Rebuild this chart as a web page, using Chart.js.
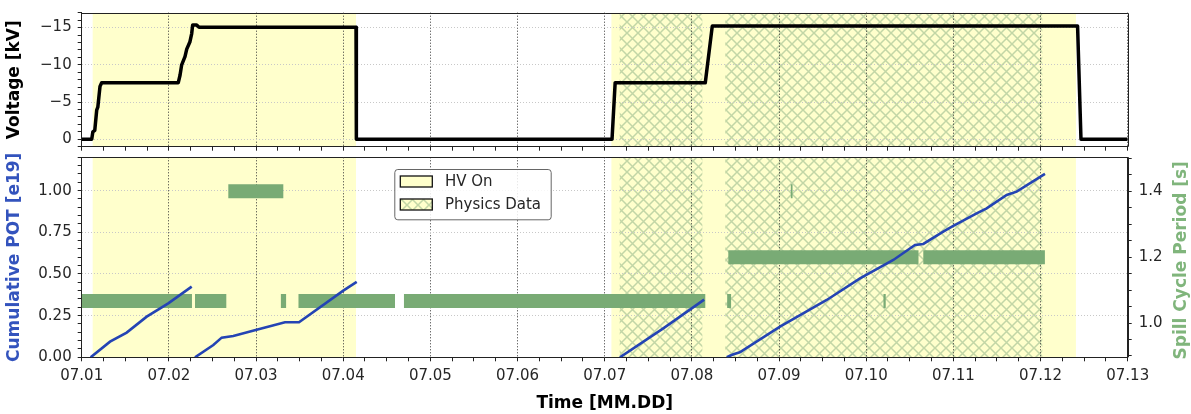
<!DOCTYPE html>
<html>
<head>
<meta charset="utf-8">
<title>HV and POT timeline</title>
<script src="https://cdn.jsdelivr.net/npm/chart.js@4.4.1/dist/chart.umd.min.js"></script>
<style>
  html, body { margin: 0; padding: 0; background: #fff; }
  #wrap { position: relative; width: 1191px; height: 414px; }
  #top-box { position: absolute; left: 0; top: 0; width: 1191px; height: 152px; }
  #bot-box { position: absolute; left: 0; top: 150px; width: 1191px; height: 264px; }
</style>
</head>
<body>
<div id="wrap">
  <div id="top-box"><canvas id="volt"></canvas></div>
  <div id="bot-box"><canvas id="pot"></canvas></div>
</div>
<script>
/* global Chart */
// x values are days of July (1 = 07.01)
const xTickLabels = ['07.01', '07.02', '07.03', '07.04', '07.05', '07.06', '07.07',
  '07.08', '07.09', '07.10', '07.11', '07.12', '07.13'];

const hvOnStart = [1.126, 7.077];
const hvOnEnd = [4.147, 12.406];
const physStart = [7.172, 8.383];
const physEnd = [8.12, 12.02];
const legendLabels = ['HV On', 'Physics Data'];

const voltDay = [1.0, 1.115, 1.128, 1.15, 1.172, 1.185, 1.21, 1.229, 2.108, 2.128, 2.147,
  2.185, 2.205, 2.242, 2.262, 2.273, 2.319, 2.346, 4.147, 4.149, 4.151, 4.153, 7.084,
  7.12, 8.154, 8.234, 12.425, 12.464, 13.0];
const voltKV = [0, 0, -1.0, -1.2, -3.9, -4.3, -7.1, -7.6, -7.6, -8.6, -10.0,
  -11.1, -12.1, -13.1, -14.2, -15.35, -15.35, -15.05, -15.05, -3.5, -0.6, 0, 0,
  -7.6, -7.6, -15.2, -15.2, 0, 0];

// null = gap between runs
const potDay = [1.103, 1.325, 1.516, 1.746, 1.993, 2.262, 2.28,
  2.30, 2.51, 2.606, 2.739, 2.996, 3.332, 3.493, 4.001, 4.155, 4.2,
  7.175, 7.672, 8.141, 8.2,
  8.40, 8.47, 8.55, 9.011, 9.547, 9.929, 10.311, 10.56, 10.655, 10.884, 10.999,
  11.267, 11.382, 11.612, 11.726, 12.051];
const potE19 = [0, 0.094, 0.148, 0.244, 0.324, 0.424, null,
  0, 0.074, 0.118, 0.128, 0.164, 0.21, 0.21, 0.40, 0.452, null,
  0, 0.174, 0.346, null,
  0, 0.017, 0.03, 0.184, 0.344, 0.474, 0.584, 0.674, 0.68, 0.754, 0.788,
  0.864, 0.894, 0.974, 0.994, 1.10];

const spillStart = [1.0, 2.30, 2.682, 3.285, 3.487, 4.697, 8.405, 8.418, 9.135, 10.198, 10.655];
const spillEnd = [2.265, 2.659, 3.313, 3.345, 4.594, 8.154, 8.45, 10.60, 9.155, 10.224, 12.05];
const spillPeriod = [1.067, 1.067, 1.40, 1.067, 1.067, 1.067, 1.067, 1.20, 1.40, 1.067, 1.20];

const spillMajor = [1.0, 1.2, 1.4];

const FONT = '"DejaVu Sans", sans-serif';
const YELLOW = '#ffffcc';
const BLUE = '#2444b4';
const GREEN = 'rgb(121,171,117)';
const TEXT = '#262626';

Chart.defaults.font.family = FONT;

function near(v, step) {
  const q = v / step;
  return Math.abs(q - Math.round(q)) < 1e-6;
}

function fmtKV(v) {
  return v < 0 ? '\u2212' + Math.abs(v) : String(v);
}

// fixed axis box sizes so both panels line up with the reference
function fixWidth(w) {
  return s => {
    s.width = w;
    s.paddingTop = 0;
    s.paddingBottom = 0;
  };
}
function fixHeight(h) {
  return s => {
    s.height = h;
    s.paddingLeft = 0;
    s.paddingRight = 0;
  };
}

const voltPoints = voltDay.map((d, i) => ({ x: d, y: voltKV[i] }));
const potPoints = potDay.map((d, i) => ({ x: d, y: potE19[i] }));
const spillPoints = [];
spillStart.forEach((s, i) => {
  spillPoints.push({ x: s, y: spillPeriod[i] });
  spillPoints.push({ x: spillEnd[i], y: spillPeriod[i] });
  spillPoints.push({ x: spillEnd[i], y: null });
});

function makeHatch() {
  const s = 11;
  const c = document.createElement('canvas');
  c.width = s;
  c.height = s;
  const g = c.getContext('2d');
  g.fillStyle = YELLOW;
  g.fillRect(0, 0, s, s);
  g.strokeStyle = 'rgba(120,165,120,0.45)';
  g.lineWidth = 1.5;
  g.beginPath();
  g.moveTo(-1, -1); g.lineTo(s + 1, s + 1);
  g.moveTo(-1, s + 1); g.lineTo(s + 1, -1);
  g.stroke();
  return c;
}
const hatchTile = makeHatch();

const spanPlugin = {
  id: 'spans',
  beforeDraw(chart) {
    const { ctx, chartArea: a, scales: { x } } = chart;
    ctx.save();
    ctx.beginPath();
    ctx.rect(a.left, a.top, a.right - a.left, a.bottom - a.top);
    ctx.clip();
    ctx.fillStyle = YELLOW;
    hvOnStart.forEach((s, i) => {
      const x0 = x.getPixelForValue(s);
      const x1 = x.getPixelForValue(hvOnEnd[i]);
      ctx.fillRect(x0, a.top, x1 - x0, a.bottom - a.top);
    });
    ctx.fillStyle = ctx.createPattern(hatchTile, 'repeat');
    physStart.forEach((s, i) => {
      const x0 = x.getPixelForValue(s);
      const x1 = x.getPixelForValue(physEnd[i]);
      ctx.fillRect(x0, a.top, x1 - x0, a.bottom - a.top);
    });
    ctx.restore();
  }
};

const framePlugin = {
  id: 'frame',
  afterDraw(chart) {
    const { ctx, chartArea: a } = chart;
    const t = Math.round(a.top) + 0.5;
    const r = Math.round(a.right) + 0.5;
    ctx.save();
    ctx.strokeStyle = '#222';
    ctx.lineWidth = 1;
    ctx.beginPath();
    ctx.moveTo(a.left, t);
    ctx.lineTo(r, t);
    ctx.lineTo(r, a.bottom);
    ctx.stroke();
    ctx.restore();
  }
};

const boxLegend = {
  id: 'boxLegend',
  afterDraw(chart) {
    const { ctx, chartArea: a } = chart;
    const left = a.left + 312.6;
    const top = a.top + 11.7;
    const w = 156.4;
    const h = 50.3;
    ctx.save();
    ctx.beginPath();
    ctx.roundRect(left + 0.5, top + 0.5, w, h, 3);
    ctx.fillStyle = 'rgba(255,255,255,0.85)';
    ctx.fill();
    ctx.strokeStyle = '#666';
    ctx.lineWidth = 1;
    ctx.stroke();
    const fills = [YELLOW, ctx.createPattern(hatchTile, 'repeat')];
    legendLabels.forEach((lab, i) => {
      const py = top + 7 + i * 23;
      ctx.fillStyle = fills[i];
      ctx.fillRect(left + 6, py, 32, 11);
      ctx.strokeStyle = '#111';
      ctx.lineWidth = 1.3;
      ctx.strokeRect(left + 6, py, 32, 11);
      ctx.fillStyle = TEXT;
      ctx.font = '15px ' + FONT;
      ctx.textBaseline = 'middle';
      ctx.textAlign = 'left';
      ctx.fillText(lab, left + 50.7, py + 6);
    });
    ctx.restore();
  }
};

const rightTitle = {
  id: 'rightTitle',
  afterDraw(chart) {
    const { ctx, chartArea: a } = chart;
    ctx.save();
    ctx.translate(a.right + 54, (a.top + a.bottom) / 2 + 3);
    ctx.rotate(-Math.PI / 2);
    ctx.font = 'bold 17px ' + FONT;
    ctx.fillStyle = '#80b57c';
    ctx.textAlign = 'center';
    ctx.textBaseline = 'middle';
    ctx.fillText('Spill Cycle Period [s]', 0, 0);
    ctx.restore();
  }
};

function timeAxis(showLabels, height) {
  return {
    type: 'linear',
    min: 1,
    max: 13,
    ticks: {
      stepSize: 0.25,
      autoSkip: false,
      maxRotation: 0,
      padding: 6,
      color: TEXT,
      font: { size: 15 },
      callback: v => (showLabels && near(v, 1) ? xTickLabels[Math.round(v) - 1] : '')
    },
    grid: {
      color: c => (c.tick && near(c.tick.value, 1) ? '#333' : 'rgba(0,0,0,0)'),
      lineWidth: 1,
      tickColor: '#222',
      tickLength: 4
    },
    border: { color: '#222', width: 1, dash: [1, 2] },
    title: {
      display: showLabels,
      text: 'Time [MM.DD]',
      color: '#000',
      font: { size: 17, weight: 'bold' },
      padding: { top: 0, bottom: 0 }
    },
    afterFit: fixHeight(height)
  };
}

function leftGrid(step) {
  return {
    color: c => (c.tick && near(c.tick.value, step) ? '#c8c8c8' : 'rgba(0,0,0,0)'),
    lineWidth: 1,
    tickColor: '#222',
    tickLength: 4
  };
}

new Chart(document.getElementById('volt'), {
  type: 'line',
  data: {
    datasets: [{
      data: voltPoints,
      borderColor: '#000',
      borderWidth: 3.5,
      borderJoinStyle: 'round',
      pointRadius: 0
    }]
  },
  options: {
    responsive: true,
    maintainAspectRatio: false,
    animation: false,
    layout: { padding: { top: 12.7, right: 63.3, left: 0, bottom: 0 } },
    plugins: { legend: { display: false }, tooltip: { enabled: false } },
    scales: {
      x: timeAxis(false, 5.3),
      y: {
        type: 'linear',
        reverse: true,
        min: -17,
        max: 1,
        ticks: {
          stepSize: 1,
          autoSkip: false,
          padding: 6,
          color: TEXT,
          font: { size: 15 },
          callback: v => (near(v, 5) ? fmtKV(v) : '')
        },
        grid: leftGrid(5),
        border: { color: '#222', width: 1, dash: [1, 2] },
        title: {
          display: true,
          text: 'Voltage [kV]',
          color: '#000',
          font: { size: 17, weight: 'bold' },
          padding: { top: 4, bottom: 0 }
        },
        afterFit: fixWidth(81.7)
      }
    }
  },
  plugins: [spanPlugin, framePlugin]
});

new Chart(document.getElementById('pot'), {
  type: 'line',
  data: {
    datasets: [
      {
        label: 'Cumulative POT',
        data: potPoints,
        yAxisID: 'yP',
        borderColor: BLUE,
        borderWidth: 2.6,
        pointRadius: 0
      },
      {
        label: 'Spill Cycle Period',
        data: spillPoints,
        yAxisID: 'yS',
        borderColor: GREEN,
        borderWidth: 14,
        borderCapStyle: 'butt',
        pointRadius: 0
      }
    ]
  },
  options: {
    responsive: true,
    maintainAspectRatio: false,
    animation: false,
    layout: { padding: { top: 7.3, right: 0, left: 0, bottom: 0 } },
    plugins: { legend: { display: false }, tooltip: { enabled: false } },
    scales: {
      x: timeAxis(true, 56.7),
      yP: {
        type: 'linear',
        position: 'left',
        min: 0,
        max: 1.2,
        ticks: {
          stepSize: 0.05,
          autoSkip: false,
          padding: 6,
          color: TEXT,
          font: { size: 15 },
          callback: v => (near(v, 0.25) ? v.toFixed(2) : '')
        },
        grid: leftGrid(0.25),
        border: { color: '#222', width: 1, dash: [1, 2] },
        title: {
          display: true,
          text: 'Cumulative POT [e19]',
          color: '#3353bd',
          font: { size: 17, weight: 'bold' },
          padding: { top: 4, bottom: 0 }
        },
        afterFit: fixWidth(81.7)
      },
      yS: {
        type: 'linear',
        position: 'right',
        bounds: 'data',
        min: 0.896,
        max: 1.503,
        afterBuildTicks: s => {
          const t = [];
          for (let k = 18; k <= 30; k++) t.push({ value: Math.round(k * 5) / 100 });
          s.ticks = t;
        },
        ticks: {
          autoSkip: false,
          padding: 7,
          color: TEXT,
          font: { size: 15 },
          callback: v => (spillMajor.some(m => Math.abs(m - v) < 1e-6) ? v.toFixed(1) : '')
        },
        grid: { drawOnChartArea: false, tickColor: '#222', tickLength: 4 },
        border: { color: '#222', width: 1 },
        afterFit: fixWidth(63.3)
      }
    }
  },
  plugins: [spanPlugin, framePlugin, boxLegend, rightTitle]
});
</script>
</body>
</html>
